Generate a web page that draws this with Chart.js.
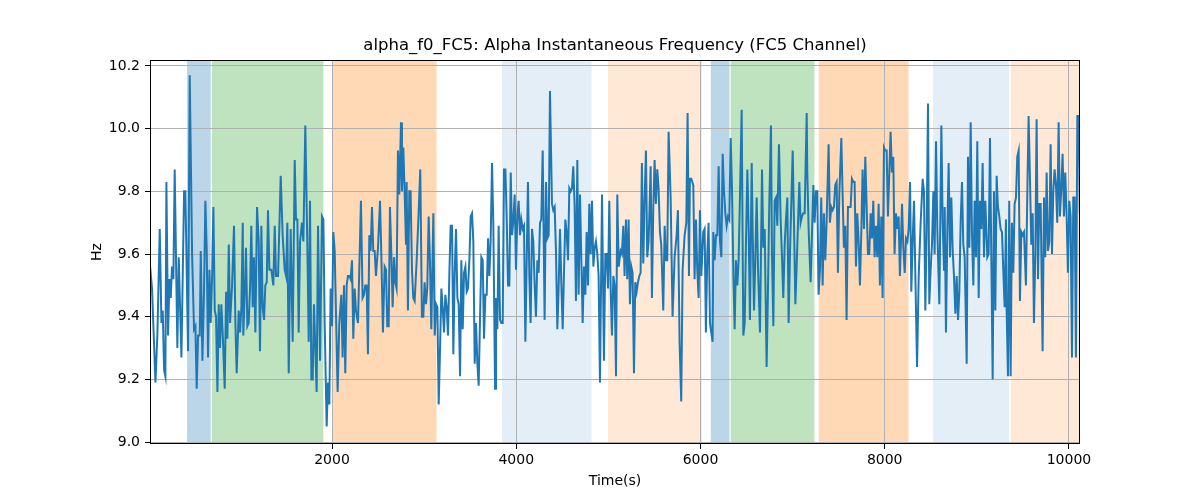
<!DOCTYPE html>
<html>
<head>
<meta charset="utf-8">
<title>alpha_f0_FC5</title>
<script src="https://cdn.jsdelivr.net/npm/chart.js@4.4.1/dist/chart.umd.min.js"></script>
<style>
  html, body { margin: 0; padding: 0; background: #fff; }
  #wrap { width: 1200px; height: 500px; }
</style>
</head>
<body>
<div id="wrap"><canvas id="chart" width="1200" height="500"></canvas></div>
<script>
// sample times (s)
const sampleTimes = [
  25,46,83,104,130,148,162,177,191,202,220,235,249,263,278,292,321,336,365,394,408,437,455,481,502,517,531,546,564,575,593,611,625,640,654,669,683,698,712,727,741,756,770,784,799,817,835,850,864,879,893,915,936,951,965,987,1002,1016,1031,
  1037,1052,1066,1081,1095,1110,1124,1139,1153,1168,1186,1204,1218,1233,1247,1262,1276,1291,1305,1320,1341,1363,1378,1392,1414,1443,1464,1486,1501,1515,1530,1551,1573,1595,1609,1624,1638,1653,1674,1689,1710,1732,1747,1761,1776,1790,1804,1833,1848,1870,1891,1906,1920,1942,1956,1971,1985,2000,2014,2029,
  2061,2079,2101,2115,2130,2144,2159,2173,2188,2202,2217,2231,2246,2260,2282,2296,2314,2332,2347,2361,2376,2390,2405,2419,2434,2448,2463,2477,2499,2521,2535,2553,2571,2586,2600,2615,2629,2644,2658,2673,2687,2701,2716,2730,2749,2759,2774,2788,2803,2810,2824,2839,2853,2868,2882,2897,2919,2940,2958,2976,2991,3005,3020,3034,3049,3063,3078,
  3100,3115,3129,3144,3158,3173,3187,3201,3216,3230,3245,3259,3274,3288,3303,3317,3332,3346,3361,3375,3390,3404,3419,3433,3448,3462,3476,3491,3505,3520,3534,3549,3563,3578,3592,3607,3621,3636,3650,3665,3679,3694,3708,3722,3737,3751,3770,3780,3795,3809,3824,3838,3853,3867,3882,3896,3911,3925,3940,3954,3969,3983,3997,4012,4026,4041,4055,4070,4084,4099,
  4127,4142,4156,4171,4185,4200,4214,4229,4243,4258,4272,4287,4308,4323,4337,4352,4366,4388,4402,4417,4431,4446,4460,4475,4489,4504,4518,4533,4547,4562,4576,4591,4605,4619,4634,4648,4663,4677,4692,4706,4721,4735,4750,4764,4779,4793,4808,4822,4837,4851,4865,4880,4894,4909,4931,4952,4967,4981,4996,5010,5025,5039,5054,5068,5083,5097,5112,
  5133,5147,5162,5176,5191,5205,5220,5234,5249,5263,5278,5292,5307,5321,5336,5350,5364,5379,5393,5408,5422,5437,5459,5473,5488,5502,5516,5531,5545,5560,5574,5596,5611,5625,5639,5654,5676,5697,5719,5741,5755,5773,5791,5806,5828,5846,5860,5875,5885,5900,5922,5936,5951,5965,5980,5994,6009,6030,6045,6059,6074,6088,6103,6117,6132,
  6139,6154,6168,6183,6197,6212,6226,6241,6255,6270,6284,6299,6313,6328,6342,6357,6371,6385,6400,6414,6429,6447,6465,6480,6494,6509,6523,6537,6556,6566,6581,6595,6610,6624,6646,6668,6682,6697,6718,6733,6747,6765,6776,6791,6805,6820,6834,6852,6870,6885,6899,6914,6928,6943,6957,6972,6986,7001,7015,7030,7044,7058,7073,7087,7102,7116,7131,7153,
  7159,7174,7196,7210,7225,7239,7254,7268,7282,7297,7311,7326,7340,7355,7369,7391,7405,7420,7434,7449,7463,7478,7492,7507,7529,7543,7557,7572,7586,7601,7615,7630,7644,7659,7673,7688,7702,7717,7731,7746,7760,7775,7789,7803,7818,7832,7847,7861,7876,7890,7905,7919,7934,7948,7963,7977,7992,8006,8021,8035,8050,8064,8078,8093,8107,8122,8136,8151,8165,
  8188,8202,8217,8231,8246,8260,8275,8289,8303,8318,8332,8351,8369,8390,8412,8426,8441,8455,8470,8484,8499,8513,8528,8542,8557,8571,8593,8615,8629,8644,8651,8665,8680,8694,8709,8723,8738,8752,8767,8781,8796,8810,8824,8839,8853,8868,8890,8904,8919,8933,8947,8962,8976,8991,9005,9020,9034,9049,9063,9078,9092,9114,9128,9143,9157,9172,9186,9201,
  9215,9229,9244,9258,9273,9287,9302,9316,9323,9338,9352,9367,9381,9396,9410,9425,9439,9454,9468,9483,9497,9512,9533,9548,9562,9577,9591,9606,9620,9635,9649,9664,9678,9693,9714,9729,9743,9758,9772,9787,9801,9816,9830,9844,9859,9873,9888,9902,9917,9931,9946,9960,9975,9989,10004,10018,10033,10047,10062,10076,10091,10105,10118
];

// alpha instantaneous frequency (Hz)
const alphaFreq = [
  9.56,9.49,9.19,9.34,9.68,9.38,9.42,9.23,9.21,9.83,9.34,9.52,9.46,9.56,9.52,9.87,9.30,9.59,9.27,9.80,9.80,9.29,10.17,9.60,9.36,9.37,9.17,9.34,9.34,9.61,9.26,9.49,9.77,9.61,9.27,9.55,9.38,9.53,9.75,9.42,9.40,9.16,9.44,9.30,9.44,9.32,9.17,9.48,9.33,9.63,9.38,9.50,9.69,9.38,9.22,9.42,9.35,9.43,9.70,
  9.34,9.47,9.62,9.37,9.38,9.49,9.69,9.43,9.59,9.35,9.75,9.64,9.29,9.69,9.43,9.39,9.50,9.51,9.74,9.55,9.55,9.50,9.69,9.53,9.53,9.85,9.66,9.55,9.53,9.70,9.22,9.68,9.32,9.90,9.71,9.71,9.35,9.64,9.70,9.64,10.01,9.63,9.32,9.77,9.20,9.20,9.44,9.16,9.69,9.26,9.72,9.71,9.38,9.05,9.19,9.12,9.49,9.37,9.67,9.61,
  9.16,9.38,9.47,9.27,9.50,9.22,9.50,9.53,9.53,9.52,9.58,9.33,9.49,9.42,9.38,9.55,9.77,9.46,9.47,9.50,9.50,9.28,9.66,9.61,9.75,9.61,9.61,9.53,9.62,9.77,9.60,9.35,9.56,9.55,9.37,9.37,9.75,9.60,9.43,9.59,9.51,9.49,9.93,9.79,10.02,9.80,9.94,9.80,9.63,9.83,9.42,9.80,9.80,9.55,9.46,9.45,9.58,9.73,9.87,9.40,9.40,9.51,9.44,9.49,9.72,9.58,9.36,
  9.73,9.34,9.44,9.43,9.12,9.30,9.49,9.43,9.35,9.47,9.43,9.34,9.54,9.69,9.69,9.28,9.54,9.68,9.46,9.44,9.21,9.58,9.36,9.54,9.56,9.48,9.49,9.58,9.72,9.73,9.64,9.25,9.38,9.25,9.18,9.40,9.59,9.58,9.33,9.47,9.47,9.65,9.53,9.64,9.89,9.70,9.17,9.46,9.36,9.69,9.39,9.38,9.38,9.87,9.87,9.72,9.50,9.50,9.86,9.66,9.71,9.79,9.55,9.72,9.77,9.66,9.71,9.68,9.69,9.32,
  9.83,9.53,9.38,9.68,9.64,9.50,9.40,9.58,9.54,9.70,9.71,9.93,9.39,9.83,9.65,9.66,10.12,9.76,9.74,9.75,9.61,9.36,9.49,9.68,9.51,9.36,9.54,9.71,9.67,9.58,9.81,9.80,9.81,9.88,9.75,9.45,9.90,9.47,9.79,9.59,9.38,9.56,9.47,9.67,9.50,9.76,9.60,9.77,9.56,9.62,9.64,9.60,9.53,9.19,9.79,9.26,9.60,9.60,9.49,9.77,9.49,9.34,9.53,9.50,9.21,9.79,9.56,
  9.61,9.60,9.69,9.53,9.71,9.52,9.71,9.44,9.56,9.54,9.22,9.51,9.48,9.51,9.53,9.54,9.89,9.57,9.77,9.93,9.59,9.64,9.88,9.46,9.75,9.90,9.76,9.87,9.81,9.67,9.63,9.42,9.69,9.58,9.58,9.99,9.78,9.40,9.59,9.66,9.74,9.32,9.13,9.55,9.66,9.70,10.05,9.53,9.84,9.84,9.82,9.52,9.71,9.55,9.46,9.74,9.53,9.67,9.68,9.35,9.60,9.70,9.38,9.35,9.32,
  9.67,9.58,9.66,9.66,9.88,9.64,9.59,9.92,9.80,9.73,9.69,9.72,9.71,9.97,9.81,9.54,9.36,9.58,9.50,9.58,9.79,10.06,9.34,9.38,9.64,9.87,9.68,9.39,9.89,9.68,9.42,9.58,9.78,9.56,9.35,9.87,9.62,9.68,9.24,9.49,9.76,10.01,9.60,9.37,9.77,9.78,9.69,9.95,9.71,9.59,9.46,9.63,9.71,9.78,9.38,9.61,9.76,9.93,9.70,9.44,9.56,9.69,9.83,9.70,9.72,9.73,9.73,10.05,
  9.87,9.68,9.51,9.66,9.82,9.70,9.80,9.80,9.47,9.55,9.78,9.50,9.73,9.58,9.70,9.95,9.70,9.75,9.74,9.75,9.82,9.83,9.54,9.79,9.97,9.79,9.62,9.69,9.39,9.75,9.75,9.75,9.84,9.83,9.83,9.56,9.73,9.64,9.50,9.67,9.87,9.68,9.91,9.76,9.60,9.60,9.73,9.65,9.77,9.59,9.69,9.59,9.76,9.50,9.72,9.46,9.94,9.93,9.93,9.72,9.86,9.99,9.86,9.91,9.60,9.73,9.68,9.72,9.53,
  9.76,9.62,9.54,9.65,9.64,9.68,9.83,9.48,9.64,9.77,9.54,9.24,9.53,9.70,9.84,9.80,9.42,9.67,10.08,9.44,9.55,9.63,9.80,9.60,9.96,9.68,9.44,10.01,9.70,9.55,9.75,9.35,9.68,9.89,9.59,9.78,9.61,9.53,9.41,9.53,9.39,9.48,9.70,9.83,9.63,9.59,9.25,9.91,9.62,10.02,9.67,9.50,9.77,9.59,9.96,9.46,9.77,9.68,9.89,9.59,9.77,9.59,9.60,9.97,9.60,9.20,9.80,9.42,
  9.85,9.75,9.72,9.68,9.67,9.55,9.43,9.71,9.43,9.21,9.77,9.21,9.70,9.54,9.76,9.78,9.91,9.93,9.45,9.67,9.66,9.67,9.50,9.79,10.04,9.84,9.63,9.73,9.38,9.60,10.03,9.52,9.76,9.76,9.29,9.78,9.59,9.86,9.61,9.64,9.95,9.60,9.80,9.87,9.82,9.70,10.02,9.72,9.81,9.92,9.72,9.86,9.72,9.54,9.77,9.72,9.27,9.78,9.78,9.27,10.04,10.04,9.73
];

// shaded segments
const bandStart = [426, 697, 2011, 3845, 4996, 6112, 6328, 7284, 8524, 9368];
const bandEnd   = [683, 1906, 3134, 4816, 6017, 6315, 7237, 8258, 9350, 10200];
const bandKind  = ['blue', 'green', 'orange', 'paleBlue', 'paleOrange', 'blue', 'green', 'orange', 'paleBlue', 'paleOrange'];

// axes
const xTickValues = [2000, 4000, 6000, 8000, 10000];
const yTickValues = [9.0, 9.2, 9.4, 9.6, 9.8, 10.0, 10.2];
const xMin = 24, xMax = 10120;
const yMin = 8.994, yMax = 10.219;

const BAND_FILL = {
  blue: 'rgba(31, 119, 180, 0.3)',
  green: 'rgba(44, 160, 44, 0.3)',
  orange: 'rgba(255, 127, 14, 0.3)',
  paleBlue: 'rgba(31, 119, 180, 0.12)',
  paleOrange: 'rgba(255, 127, 14, 0.17)'
};

const FONT = 'DejaVu Sans';

const bandsPlugin = {
  id: 'bands',
  beforeDraw(chart) {
    const {ctx, chartArea, scales} = chart;
    ctx.save();
    ctx.fillStyle = '#fff';
    ctx.fillRect(0, 0, chart.width, chart.height);
    ctx.beginPath();
    ctx.rect(chartArea.left, chartArea.top, chartArea.width, chartArea.height);
    ctx.clip();
    bandStart.forEach((s, i) => {
      const x0 = scales.x.getPixelForValue(s);
      const x1 = scales.x.getPixelForValue(bandEnd[i]);
      ctx.fillStyle = BAND_FILL[bandKind[i]];
      ctx.fillRect(x0, chartArea.top, x1 - x0, chartArea.height);
    });
    ctx.restore();
  }
};

const framePlugin = {
  id: 'frame',
  afterDatasetsDraw(chart) {
    const {ctx, chartArea} = chart;
    ctx.save();
    ctx.strokeStyle = '#000';
    ctx.lineWidth = 1;
    ctx.strokeRect(Math.round(chartArea.left) + 0.5, Math.round(chartArea.top) + 0.5,
      Math.round(chartArea.width) - 1, Math.round(chartArea.height) - 1);
    ctx.restore();
  }
};

const points = sampleTimes.map((t, i) => ({x: t, y: alphaFreq[i]}));

Chart.defaults.font.family = FONT;
Chart.defaults.color = '#000';

new Chart(document.getElementById('chart').getContext('2d'), {
  type: 'line',
  data: {
    datasets: [{
      label: 'alpha_f0_FC5',
      data: points,
      borderColor: '#1f77b4',
      borderWidth: 2,
      pointRadius: 0,
      tension: 0,
      fill: false
    }]
  },
  options: {
    responsive: false,
    animation: false,
    devicePixelRatio: 1,
    layout: { padding: { left: 80, right: 120, top: 0, bottom: 0 } },
    plugins: {
      legend: { display: false },
      tooltip: { enabled: false },
      title: {
        display: true,
        fullSize: false,
        text: 'alpha_f0_FC5: Alpha Instantaneous Frequency (FC5 Channel)',
        font: { size: 16.5, weight: 'normal' },
        padding: { top: 36, bottom: 4.2 }
      }
    },
    scales: {
      x: {
        type: 'linear',
        min: xMin,
        max: xMax,
        afterFit: (scale) => { scale.height = 56; },
        afterBuildTicks: (scale) => { scale.ticks = xTickValues.map(v => ({value: v})); },
        ticks: {
          maxRotation: 0,
          autoSkip: false,
          padding: 3,
          font: { size: 14 },
          callback: (v) => String(v)
        },
        grid: { color: '#b0b0b0', lineWidth: 1, tickColor: '#000', tickLength: 5 },
        border: { display: false },
        title: { display: true, text: 'Time(s)', font: { size: 14 }, padding: { top: 0, bottom: 10 } }
      },
      y: {
        type: 'linear',
        min: yMin,
        max: yMax,
        afterFit: (scale) => { scale.width = 70; },
        afterBuildTicks: (scale) => { scale.ticks = yTickValues.map(v => ({value: v})); },
        ticks: {
          autoSkip: false,
          padding: 5,
          font: { size: 14 },
          callback: (v) => v.toFixed(1)
        },
        grid: { color: '#b0b0b0', lineWidth: 1, tickColor: '#000', tickLength: 5 },
        border: { display: false },
        title: { display: true, text: 'Hz', font: { size: 14 }, padding: { top: 9, bottom: 0 } }
      }
    }
  },
  plugins: [bandsPlugin, framePlugin]
});
</script>
</body>
</html>
